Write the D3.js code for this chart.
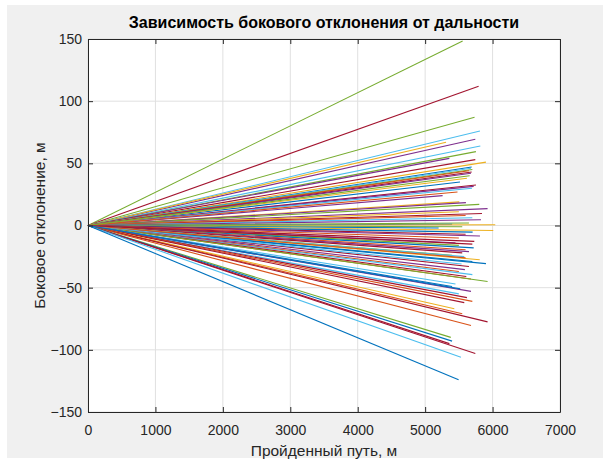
<!DOCTYPE html>
<html>
<head>
<meta charset="utf-8">
<script src="https://cdn.jsdelivr.net/npm/d3@7"></script>
<style>
  body { margin: 0; background: #ffffff; }
  text { font-family: "Liberation Sans", Arial, sans-serif; }
</style>
</head>
<body>
<svg id="svg" width="605" height="462"></svg>
<script>
// end points of every trajectory (all start from 0,0)
var endX = [5556, 5793, 5733, 5813, 5744, 5310, 5818, 5753, 5359, 5744,
            5902, 5690, 5680, 5700, 5650, 5690, 5680, 5517, 5753, 5720,
            5695, 5259, 5507, 5605, 5803, 5926, 5500, 5843, 5600, 5700,
            5828, 5650, 5400, 6040, 5550, 5200, 6010, 5704, 5600, 5813,
            5500, 5729, 5450, 5500, 5720, 5600, 5650, 5550, 5400, 5580,
            5810, 5700, 5902, 5650, 5590, 5500, 5700, 5610, 5680, 5926,
            5450, 5400, 5680, 5500, 5620, 5700, 5580, 5433, 5550, 5926,
            5680, 5380, 5400, 5360, 5744, 5531, 5496, 5620, 5480, 5660,
            5540, 5600, 5700, 5520];
var endY = [148.4, 112, 87, 76, 69.3, 67, 64, 59.4, 54, 53,
            51, 47, 46, 45, 44, 43, 42, 35, 32.6, 31.5,
            30, 24, 19, 18.4, 17, 13.6, 11, 9.6, 8, 6.2,
            4.6, 2, 1, 0.6, -1, -2, -4, -5.3, -7, -8.5,
            -10, -12.8, -14, -16, -18, -19.5, -21, -22, -24, -25,
            -27.5, -29, -30.7, -33, -35.5, -37, -39.5, -41, -43, -45,
            -47, -49, -53, -55, -58, -61, -62, -67, -71, -77.5,
            -80.5, -90, -93, -95, -103, -106, -124, 38, 27, 40,
            -31, -26, -15, -51];
// colour index into MATLAB default order
var colorIdx = [4, 6, 4, 5, 3, 2, 5, 4, 3, 6,
                2, 0, 5, 4, 1, 6, 3, 0, 6, 3,
                5, 3, 2, 3, 4, 3, 2, 6, 1, 5,
                3, 4, 0, 2, 4, 0, 2, 0, 6, 3,
                1, 6, 3, 4, 0, 1, 3, 6, 4, 5,
                2, 0, 0, 6, 3, 1, 5, 6, 1, 4,
                5, 0, 3, 5, 6, 1, 6, 2, 1, 6,
                1, 4, 0, 6, 6, 5, 0, 2, 1, 4,
                5, 1, 6, 0];
var xTicks = [0, 1000, 2000, 3000, 4000, 5000, 6000, 7000];
var yTicks = [-150, -100, -50, 0, 50, 100, 150];
var palette = ['#0072BD', '#D95319', '#EDB120', '#7E2F8E', '#77AC30', '#4DBEEE', '#A2142F'];

var svg = d3.select('#svg');
svg.append('rect').attr('x', 7).attr('y', 5).attr('width', 596).attr('height', 453).attr('fill', '#f0f0f0');

var pL = 88, pR = 560, pT = 39, pB = 412;
var scX = d3.scaleLinear().domain([0, 7000]).range([pL, pR]);
var scY = d3.scaleLinear().domain([-150, 150]).range([pB, pT]);
var scColor = d3.scaleOrdinal(palette).domain(d3.range(7));

svg.append('rect').attr('x', pL).attr('y', pT).attr('width', pR - pL).attr('height', pB - pT).attr('fill', '#ffffff');

// grid
var grid = svg.append('g').attr('stroke', '#e0e0e0').attr('stroke-width', 1);
grid.selectAll('.gx').data(xTicks).enter().append('line')
    .attr('x1', d => scX(d)).attr('x2', d => scX(d)).attr('y1', pT).attr('y2', pB);
grid.selectAll('.gy').data(yTicks).enter().append('line')
    .attr('y1', d => scY(d)).attr('y2', d => scY(d)).attr('x1', pL).attr('x2', pR);

var lines = d3.range(endX.length).map(i => ({ x: endX[i], y: endY[i], c: colorIdx[i] }));
var lineGen = d3.line().x(d => scX(d[0])).y(d => scY(d[1]));
svg.append('g')
    .selectAll('path').data(lines).enter().append('path')
    .attr('d', d => lineGen([[0, 0], [d.x, d.y]]))
    .attr('fill', 'none')
    .attr('stroke', d => scColor(d.c))
    .attr('stroke-width', 1.1);

// axes with inward ticks on all four sides
function styleAxis(g) {
    g.select('.domain').attr('stroke', '#262626');
    g.selectAll('.tick line').attr('stroke', '#262626');
    g.selectAll('.tick text').attr('fill', '#262626').style('font-size', '14px');
}
svg.append('g').attr('transform', 'translate(0,' + pB + ')')
    .call(d3.axisBottom(scX).tickValues(xTicks).tickFormat(d3.format('d')).tickSizeInner(-5).tickSizeOuter(0).tickPadding(13))
    .call(styleAxis);
svg.append('g').attr('transform', 'translate(0,' + pT + ')')
    .call(d3.axisTop(scX).tickValues(xTicks).tickFormat('').tickSizeInner(-5).tickSizeOuter(0))
    .call(styleAxis);
svg.append('g').attr('transform', 'translate(' + pL + ',0)')
    .call(d3.axisLeft(scY).tickValues(yTicks).tickFormat(d3.format('d')).tickSizeInner(-5).tickSizeOuter(0).tickPadding(6))
    .call(styleAxis);
svg.append('g').attr('transform', 'translate(' + pR + ',0)')
    .call(d3.axisRight(scY).tickValues(yTicks).tickFormat('').tickSizeInner(-5).tickSizeOuter(0))
    .call(styleAxis);

svg.append('text').attr('x', (pL + pR) / 2).attr('y', 28).attr('text-anchor', 'middle')
    .attr('font-weight', 'bold').attr('font-size', '16px').attr('fill', '#000')
    .text('Зависимость бокового отклонения от дальности');
svg.append('text').attr('x', (pL + pR) / 2).attr('y', 456).attr('text-anchor', 'middle')
    .attr('font-size', '15.5px').attr('fill', '#262626')
    .text('Пройденный путь, м');
svg.append('text').attr('transform', 'translate(45,' + (pT + pB) / 2 + ') rotate(-90)')
    .attr('text-anchor', 'middle').attr('font-size', '15.5px').attr('fill', '#262626')
    .text('Боковое отклонение, м');
</script>
</body>
</html>
